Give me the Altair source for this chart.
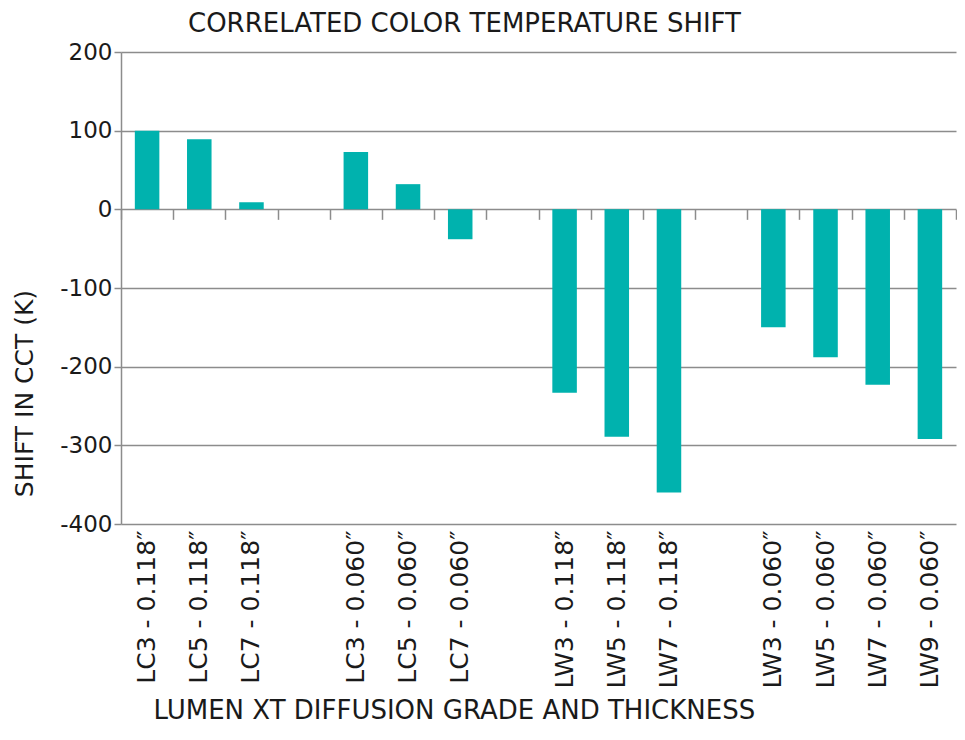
import altair as alt
import pandas as pd

categories = [
    "LC3 - 0.118″", "LC5 - 0.118″", "LC7 - 0.118″", " ",
    "LC3 - 0.060″", "LC5 - 0.060″", "LC7 - 0.060″", "  ",
    "LW3 - 0.118″", "LW5 - 0.118″", "LW7 - 0.118″", "   ",
    "LW3 - 0.060″", "LW5 - 0.060″", "LW7 - 0.060″", "LW9 - 0.060″",
]
shift = [100, 89, 9, None, 73, 32, -38, None, -233, -289, -360, None, -150, -188, -223, -292]
y_ticks = [-400, -300, -200, -100, 0, 100, 200]
chart_title = ["CORRELATED COLOR TEMPERATURE SHIFT"]

df = pd.DataFrame({"grade": categories, "shift": shift})
title_df = pd.DataFrame({"t": chart_title})

W = 835
H = 472
FONT = "DejaVu Sans"
TEXT = "#1a1a1a"
GRAY = "#8c8c8c"
BAR = "#00b2ae"

xscale = alt.Scale(domain=categories, paddingInner=0.53, paddingOuter=0.265)
xscale_ticks = alt.Scale(domain=categories, paddingInner=0, paddingOuter=0)
yscale = alt.Scale(domain=[-400, 200], nice=False, zero=False)

bars = alt.Chart(df).mark_bar(color=BAR).encode(
    x=alt.X("grade:N", scale=xscale, sort=None,
            axis=alt.Axis(orient="bottom", title="LUMEN XT DIFFUSION GRADE AND THICKNESS",
                          labelAngle=-90, labelFont=FONT, labelFontSize=25, labelColor=TEXT,
                          labelPadding=6, ticks=False, domain=False,
                          titleFont=FONT, titleFontSize=26, titleFontWeight="normal",
                          titleColor=TEXT, titleX=32, titleY=194, titleAlign="left",
                          titleBaseline="alphabetic")),
    y=alt.Y("shift:Q", scale=yscale,
            axis=alt.Axis(values=y_ticks, title="SHIFT IN CCT (K)", grid=True,
                          labelExpr="datum.value",
                          gridColor=GRAY, gridWidth=1.3, domainColor=GRAY, domainWidth=1.5,
                          tickColor=GRAY, tickSize=7, tickWidth=1.5,
                          labelFont=FONT, labelFontSize=23, labelColor=TEXT, labelPadding=2,
                          titleFont=FONT, titleFontSize=25, titleFontWeight="normal",
                          titleColor=TEXT, titleX=-97, titleY=341, titleAlign="center",
                          titleBaseline="middle", titleAngle=-90)),
)

tick_layer = alt.Chart(df).mark_bar(opacity=0).encode(
    x=alt.X("grade:N", scale=xscale_ticks, sort=None,
            axis=alt.Axis(orient="bottom", offset=-2 * H / 3, labels=False, title=None,
                          domain=False, ticks=True, tickBand="extent", tickSize=10,
                          tickColor=GRAY, tickWidth=1.5)),
    y=alt.Y("shift:Q", scale=yscale),
)

title_layer = alt.Chart(title_df).mark_text(
    font=FONT, fontSize=26, color=TEXT, align="left", baseline="alphabetic"
).encode(text="t:N", x=alt.value(67), y=alt.value(-20))

chart = alt.layer(bars, tick_layer, title_layer).resolve_scale(x="independent").resolve_axis(
    x="independent"
).properties(
    width=W,
    height=H,
    autosize=alt.AutoSizeParams(type="none"),
    padding={"left": 113, "top": 44, "right": 1, "bottom": 202},
).configure_view(stroke=None)

chart.save("out.html", embed_options={"renderer": "svg", "actions": False})
